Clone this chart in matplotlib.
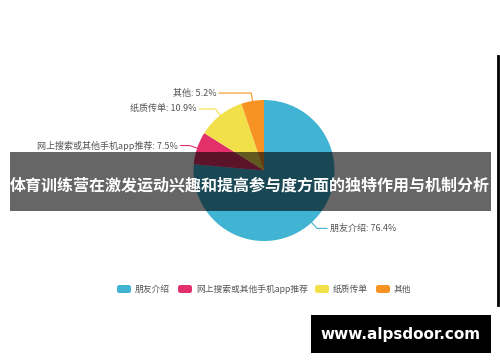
import numpy as np
import matplotlib.pyplot as plt
from matplotlib.patches import Rectangle, FancyBboxPatch

plt.rcParams['font.family'] = ['Noto Sans CJK SC', 'DejaVu Sans']

# Data
categories = ['朋友介绍', '网上搜索或其他手机app推荐', '纸质传单', '其他']
shares = [76.4, 7.5, 10.9, 5.2]
colors = ['#41b3d3', '#e3306b', '#f2e04b', '#f79322']
title = '体育训练营在激发运动兴趣和提高参与度方面的独特作用与机制分析'
watermark = 'www.alpsdoor.com'

W, H = 500, 362
fig = plt.figure(figsize=(W / 100, H / 100), dpi=100)
ax = fig.add_axes([0, 0, 1, 1])

# pie (pixel coords, y axis inverted -> counterclock in data is clockwise on screen)
cx, cy, r = 264, 170.5, 70.5
wedges, _ = ax.pie(shares, colors=colors, startangle=-90, counterclock=True,
                   center=(cx, cy), radius=r, wedgeprops=dict(linewidth=0))
ax.set_xlim(0, W)
ax.set_ylim(H, 0)
ax.set_aspect('auto')
ax.axis('off')

# leader lines + labels
tail = [10, 9, 16, 32]
for w, name, val, c, t in zip(wedges, categories, shares, colors, tail):
    ang = np.deg2rad((w.theta1 + w.theta2) / 2)
    x0, y0 = cx + r * np.cos(ang), cy + r * np.sin(ang)
    x1, y1 = cx + (r + 8) * np.cos(ang), cy + (r + 8) * np.sin(ang)
    side = 1 if np.cos(ang) > 0 else -1
    x2 = x1 + side * t
    ax.plot([x0, x1, x2], [y0, y1, y1], color=c, lw=0.8)
    ax.text(x2 + side * 3, y1, f'{name}: {val}%', fontsize=6.5, color='#555555',
            ha='left' if side > 0 else 'right', va='center')

# legend
leg_x = [117, 178, 315, 376]
for x, name, c in zip(leg_x, categories, colors):
    ax.add_patch(FancyBboxPatch((x, 285), 14, 8, boxstyle='round,pad=0,rounding_size=2.5',
                                fc=c, ec='none'))
    ax.text(x + 18, 289, name, fontsize=6.3, color='#555555', va='center', ha='left')

# overlay band with title
ax.add_patch(Rectangle((10, 152), 481, 59, fc='black', alpha=0.6, ec='none', zorder=5))
ax.text(250, 185, title, fontsize=11.5, fontweight='bold', color='white',
        ha='center', va='center', zorder=6)

# right edge line
ax.plot([498, 498], [56, 305], color='black', lw=2, zorder=6)

# watermark
ax.add_patch(Rectangle((311, 315), 180, 38, fc='black', ec='none', zorder=6))
ax.text(401, 334, watermark, fontsize=11, fontweight='bold', color='white',
        family='DejaVu Sans', ha='center', va='center', zorder=7)

fig.savefig('out.png', dpi=100)
